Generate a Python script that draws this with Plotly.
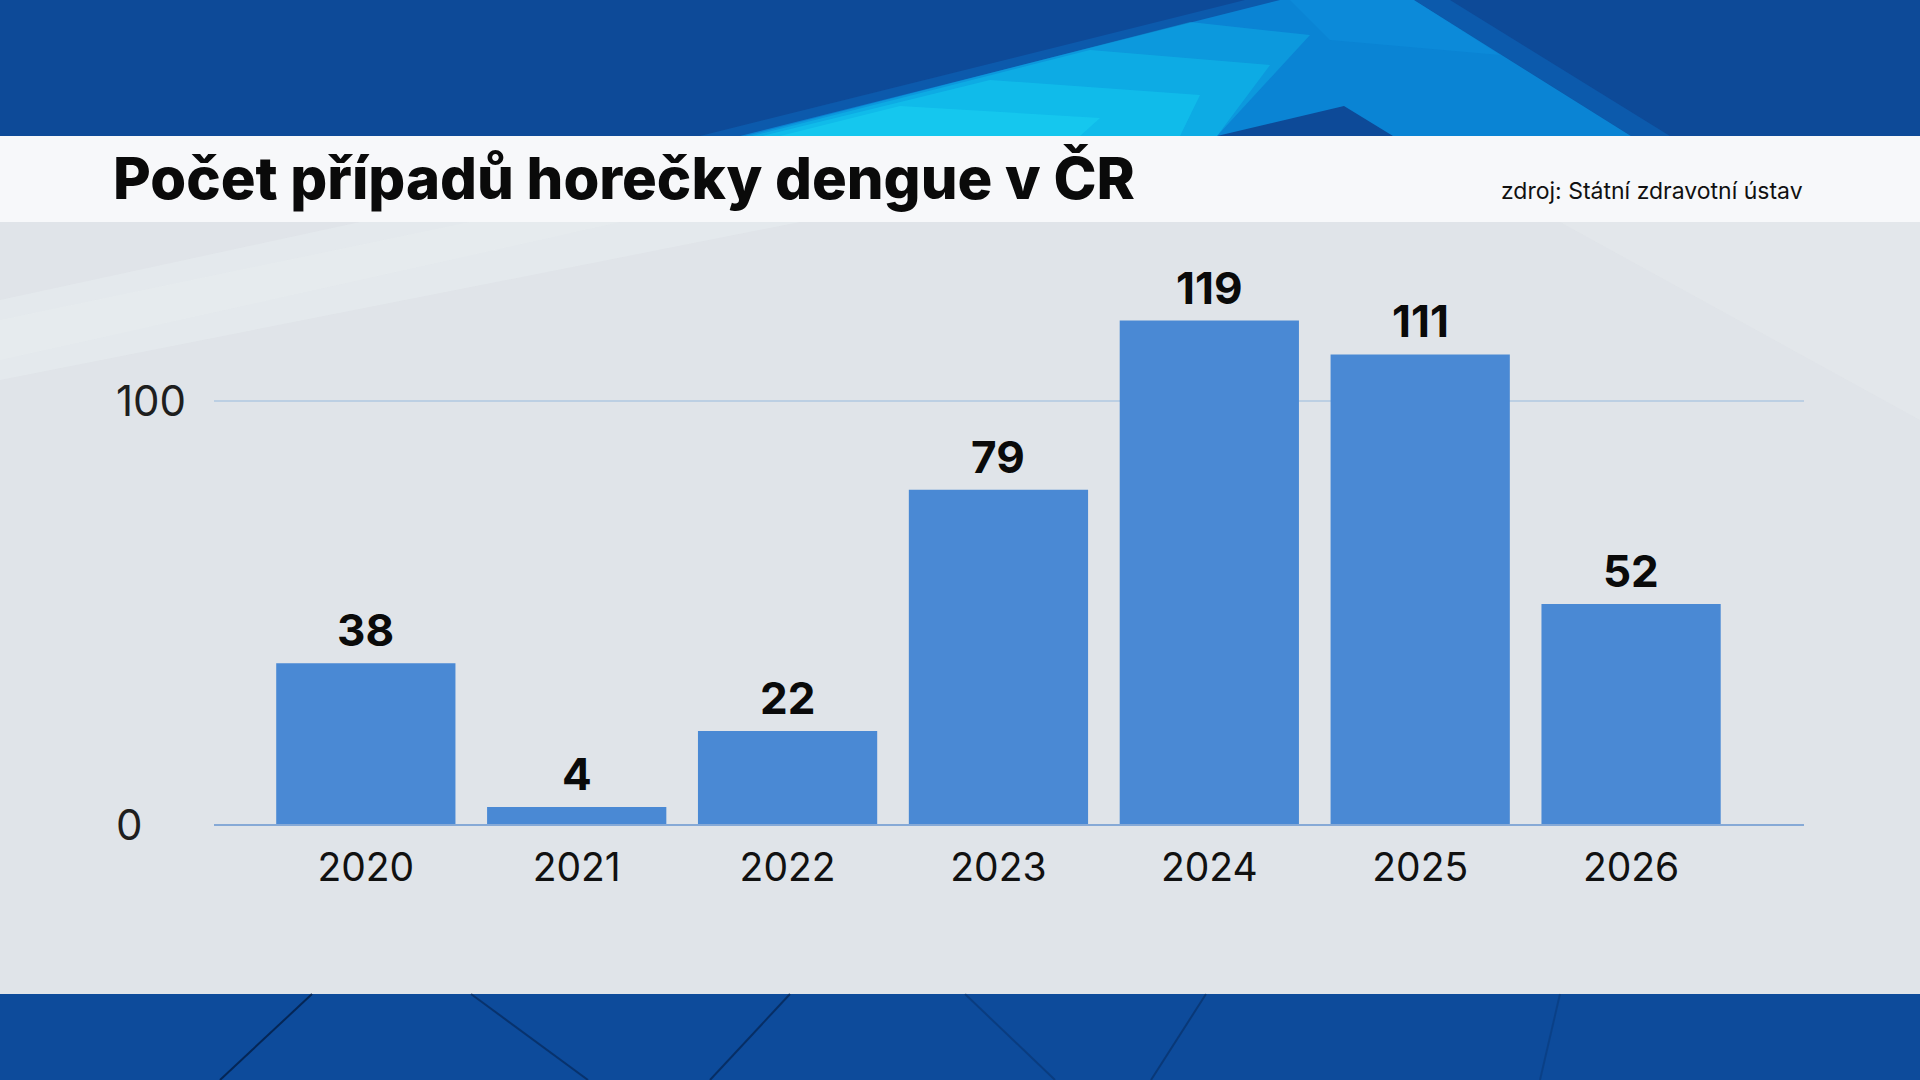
import plotly.graph_objects as go

# ---- data ----
years = ["2020", "2021", "2022", "2023", "2024", "2025", "2026"]
cases = [38, 4, 22, 79, 119, 111, 52]
y_ticks = [0, 100]
y_tick_labels = ["0", "100"]

title_text = "Počet případů horečky dengue v ČR"
source_text = "zdroj: Státní zdravotní ústav"

# ---- geometry helpers (pixel -> paper) ----
W, H = 1920, 1080
L, R, T, B = 214, 1804, 222, 824

def xp(px):
    return (px - L) / (R - L)

def yp(py):
    return (B - py) / (B - T)

def poly(pts):
    return "M " + " L ".join(f"{xp(x):.5f},{yp(y):.5f}" for x, y in pts) + " Z"

FONT = "Inter"
bar_color = "#4a89d4"

fig = go.Figure()
fig.add_trace(go.Bar(
    x=years, y=cases,
    marker=dict(color=bar_color, line=dict(width=0)),
    hoverinfo="skip",
))

shapes = []

def add_poly(pts, color, op):
    shapes.append(dict(type="path", xref="paper", yref="paper", path=poly(pts),
                       fillcolor=color, opacity=op, line=dict(width=0), layer="below"))

def add_rect(x0, y0, x1, y1, color):
    shapes.append(dict(type="rect", xref="paper", yref="paper", x0=xp(x0), x1=xp(x1), y0=yp(y0), y1=yp(y1),
                       fillcolor=color, line=dict(width=0), layer="below"))

# top blue band
add_rect(0, 0, W, 136, "#0d4a98")
# light streak (bent band) in top band
add_poly([(700, 136), (1245, 0), (1290, 0), (745, 136)], "#0b6ac0", 0.5)
add_poly([(1414, 0), (1450, 0), (1670, 136), (1631, 136)], "#0b6ac0", 0.5)
add_poly([(740, 136), (1280, 0), (1414, 0), (1631, 136), (1393, 136), (1344, 106), (1217, 136)], "#0a84d4", 1.0)
add_poly([(745, 136), (1190, 22), (1310, 35), (1217, 136)], "#10c0ee", 0.35)
add_poly([(752, 136), (1090, 50), (1270, 65), (1217, 136)], "#12cdf2", 0.35)
add_poly([(762, 136), (990, 80), (1200, 95), (1180, 136)], "#18daf5", 0.35)
add_poly([(780, 136), (900, 106), (1100, 118), (1080, 136)], "#22e4f7", 0.3)
add_poly([(1290, 0), (1414, 0), (1500, 55), (1330, 40)], "#1196e2", 0.35)
# white title band
add_rect(0, 136, W, 222, "#f7f8fa")
# gray panel
add_rect(0, 222, W, 994, "#e0e4e9")
add_poly([(0, 300), (0, 380), (800, 222), (360, 222)], "#e9eff1", 0.45)
add_poly([(0, 320), (0, 360), (620, 222), (470, 222)], "#ecf2f2", 0.35)
add_poly([(1560, 222), (1920, 222), (1920, 420)], "#e7ebee", 0.45)
# bottom blue band
add_rect(0, 994, W, 1080, "#0d4b9b")
for (x0, x1, op) in [(312, 220, 0.9), (471, 588, 0.6), (790, 710, 0.7), (965, 1055, 0.35), (1206, 1151, 0.45), (1560, 1540, 0.25)]:
    shapes.append(dict(type="line", xref="paper", yref="paper", x0=xp(x0), x1=xp(x1), y0=yp(994), y1=yp(1080),
                       line=dict(color="#05234f", width=2), opacity=op, layer="below"))

annotations = []
# title and source
annotations.append(dict(xref="paper", yref="paper", x=xp(111), y=yp(178), xanchor="left", yanchor="middle",
                        text=title_text, showarrow=False,
                        font=dict(family=FONT, size=58, color="#0a0a0a", weight=800)))
annotations.append(dict(xref="paper", yref="paper", x=xp(1805), y=yp(191), xanchor="right", yanchor="middle",
                        text=source_text, showarrow=False,
                        font=dict(family=FONT, size=23, color="#111111")))
# y tick labels (left aligned)
for v, t in zip(y_ticks, y_tick_labels):
    annotations.append(dict(xref="paper", yref="y", x=xp(114), y=v, xanchor="left", yanchor="middle",
                            text=t, showarrow=False,
                            font=dict(family=FONT, size=42, color="#1e1e1e")))
# value labels
for i, v in enumerate(cases):
    annotations.append(dict(xref="x", yref="y", x=i, y=v, xanchor="center", yanchor="bottom", yshift=4,
                            text=str(v), showarrow=False,
                            font=dict(family=FONT, size=44, color="#0a0a0a", weight=700)))

fig.update_layout(
    width=W, height=H,
    margin=dict(l=L, r=W - R, t=T, b=H - B, pad=0),
    paper_bgcolor="#e0e4e9",
    plot_bgcolor="rgba(0,0,0,0)",
    showlegend=False,
    bargap=0.15,
    shapes=shapes,
    annotations=annotations,
    xaxis=dict(
        type="category", range=[-0.72, 6.82],
        showgrid=False, zeroline=False,
        showline=True, linecolor="#86a9d6", linewidth=2,
        ticks="", tickfont=dict(family=FONT, size=39, color="#111111"),
        ticklabelstandoff=8,
        fixedrange=True,
    ),
    yaxis=dict(
        range=[0, 142.3], tickvals=y_ticks, showticklabels=False,
        showgrid=True, gridcolor="#bccfe3", gridwidth=1.5,
        zeroline=False, showline=False, ticks="",
        fixedrange=True,
    ),
)

fig.write_html("out.html", config={"displayModeBar": False})
